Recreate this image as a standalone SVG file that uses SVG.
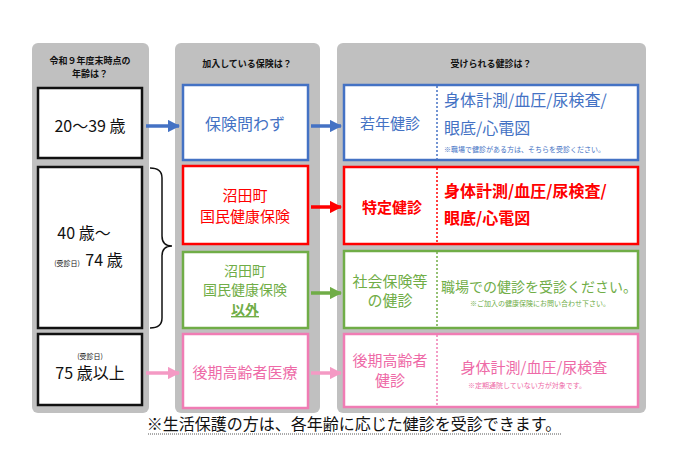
<svg xmlns="http://www.w3.org/2000/svg" width="680" height="476" viewBox="0 0 680 476">
<style>
text{font-family:"Noto Sans CJK JP","Liberation Sans",sans-serif;text-anchor:middle}
.panel{fill:#c0c0c0}
.box{fill:#fff;stroke-width:2.5}
.k{stroke:#111}.b{stroke:#4472c4}.r{stroke:#ff0000}.g{stroke:#70ad47}.p{stroke:#f07cb4}
.tb{fill:#4472c4}.tr{fill:#ff0000}.tg{fill:#70ad47}.tp{fill:#ee6aa7}
.hd{font-size:9px;font-weight:bold;fill:#111}
.dv{stroke-width:1.5;stroke-dasharray:2,2}
</style>
<defs>
<marker id="ab" viewBox="0 0 10 10" refX="9" refY="5" markerWidth="3.5" markerHeight="3.5" orient="auto"><path d="M0,0L10,5L0,10z" fill="#4472c4"/></marker>
<marker id="ar" viewBox="0 0 10 10" refX="9" refY="5" markerWidth="3.5" markerHeight="3.5" orient="auto"><path d="M0,0L10,5L0,10z" fill="#ff0000"/></marker>
<marker id="ag" viewBox="0 0 10 10" refX="9" refY="5" markerWidth="3.5" markerHeight="3.5" orient="auto"><path d="M0,0L10,5L0,10z" fill="#70ad47"/></marker>
<marker id="ap" viewBox="0 0 10 10" refX="9" refY="5" markerWidth="3.5" markerHeight="3.5" orient="auto"><path d="M0,0L10,5L0,10z" fill="#f49ac4"/></marker>
</defs>
<rect width="680" height="476" fill="#fff"/>
<g id="panels">
<rect class="panel" x="32" y="43" width="117" height="370" rx="6"/>
<rect class="panel" x="175" y="43" width="145" height="370" rx="6"/>
<rect class="panel" x="337" y="43" width="309" height="370" rx="6"/>
<text class="hd" x="90" y="64">令和９年度末時点の</text>
<text class="hd" x="90" y="77">年齢は？</text>
<text class="hd" x="247" y="67">加入している保険は？</text>
<text class="hd" x="491" y="67">受けられる健診は？</text>
</g>
<g id="age1"><rect class="box k" x="38" y="88" width="104" height="70"/><text x="90" y="132" font-size="16" fill="#111">20～39 歳</text></g>
<g id="age2"><rect class="box k" x="38" y="167" width="104" height="161"/><text x="84" y="239" font-size="16" fill="#111">40 歳～</text><text x="67" y="266" font-size="7" fill="#111">(受診日)</text><text x="104" y="266" font-size="16" fill="#111">74 歳</text></g>
<g id="age3"><rect class="box k" x="38" y="334" width="104" height="71"/><text x="90" y="359" font-size="7" fill="#111">(受診日)</text><text x="90" y="379" font-size="16" fill="#111">75 歳以上</text></g>
<g id="brace"><path d="M150,168 Q162,168 162,178 L162,236 Q162,246 172,246 Q162,246 162,256 L162,318 Q162,328 150,328" fill="none" stroke="#111" stroke-width="1.5"/></g>
<g id="ins1"><rect class="box b" x="183" y="85" width="125" height="75"/><text class="tb" x="245" y="130" font-size="16">保険問わず</text></g>
<g id="ins2"><rect class="box r" x="183" y="166" width="125" height="78"/><text class="tr" x="245" y="201" font-size="15">沼田町</text><text class="tr" x="245" y="222" font-size="15">国民健康保険</text></g>
<g id="ins3"><rect class="box g" x="183" y="252" width="125" height="76"/><text class="tg" x="245" y="276" font-size="14">沼田町</text><text class="tg" x="245" y="295" font-size="14">国民健康保険</text><text class="tg" x="245" y="315" font-size="14" font-weight="bold" text-decoration="underline">以外</text></g>
<g id="ins4"><rect class="box p" x="183" y="334" width="125" height="74"/><text class="tp" x="245" y="378" font-size="15">後期高齢者医療</text></g>
<g id="chk1"><rect class="box b" x="344" y="85" width="294" height="75"/><line class="dv b" x1="437" y1="86" x2="437" y2="159"/><text class="tb" x="390" y="129" font-size="15">若年健診</text>
<text class="tb" x="444" y="106" font-size="16" style="text-anchor:start">身体計測/血圧/尿検査/</text><text class="tb" x="444" y="134" font-size="16" style="text-anchor:start">眼底/心電図</text><text class="tb" x="444" y="152" font-size="7" style="text-anchor:start">※職場で健診がある方は、そちらを受診ください。</text></g>
<g id="chk2"><rect class="box r" x="344" y="167" width="294" height="77"/><line class="dv r" x1="437" y1="168" x2="437" y2="243"/><text class="tr" x="392" y="213" font-size="15" font-weight="bold">特定健診</text>
<text class="tr" x="444" y="197" font-size="16" font-weight="bold" style="text-anchor:start">身体計測/血圧/尿検査/</text><text class="tr" x="444" y="224" font-size="16" font-weight="bold" style="text-anchor:start">眼底/心電図</text></g>
<g id="chk3"><rect class="box g" x="344" y="251" width="294" height="77"/><line class="dv g" x1="437" y1="252" x2="437" y2="327"/><text class="tg" x="390" y="287" font-size="15">社会保険等</text><text class="tg" x="390" y="306" font-size="15">の健診</text>
<text class="tg" x="539" y="292" font-size="14">職場での健診を受診ください。</text><text class="tg" x="540" y="306" font-size="7">※ご加入の健康保険にお問い合わせ下さい。</text></g>
<g id="chk4"><rect class="box p" x="344" y="334" width="294" height="73"/><line class="dv p" x1="437" y1="335" x2="437" y2="406"/><text class="tp" x="390" y="366" font-size="15">後期高齢者</text><text class="tp" x="390" y="386" font-size="15">健診</text>
<text class="tp" x="534" y="373" font-size="15">身体計測/血圧/尿検査</text><text class="tp" x="527" y="388" font-size="7">※定期通院していない方が対象です。</text></g>
<g id="connectors" stroke-width="3.5" fill="none">
<line x1="146" y1="126" x2="179" y2="126" stroke="#4472c4" marker-end="url(#ab)"/>
<line x1="311" y1="126" x2="341" y2="126" stroke="#4472c4" marker-end="url(#ab)"/>
<line x1="311" y1="207" x2="341" y2="207" stroke="#ff0000" marker-end="url(#ar)"/>
<line x1="311" y1="293" x2="341" y2="293" stroke="#70ad47" marker-end="url(#ag)"/>
<line x1="146" y1="373" x2="179" y2="373" stroke="#f49ac4" marker-end="url(#ap)"/>
<line x1="311" y1="373" x2="341" y2="373" stroke="#f49ac4" marker-end="url(#ap)"/>
</g>
<g id="note"><text x="354" y="430" font-size="16" fill="#111">※生活保護の方は、各年齢に応じた健診を受診できます。</text><line x1="148" y1="434" x2="561" y2="434" stroke="#555" stroke-dasharray="1,1"/></g>
</svg>
